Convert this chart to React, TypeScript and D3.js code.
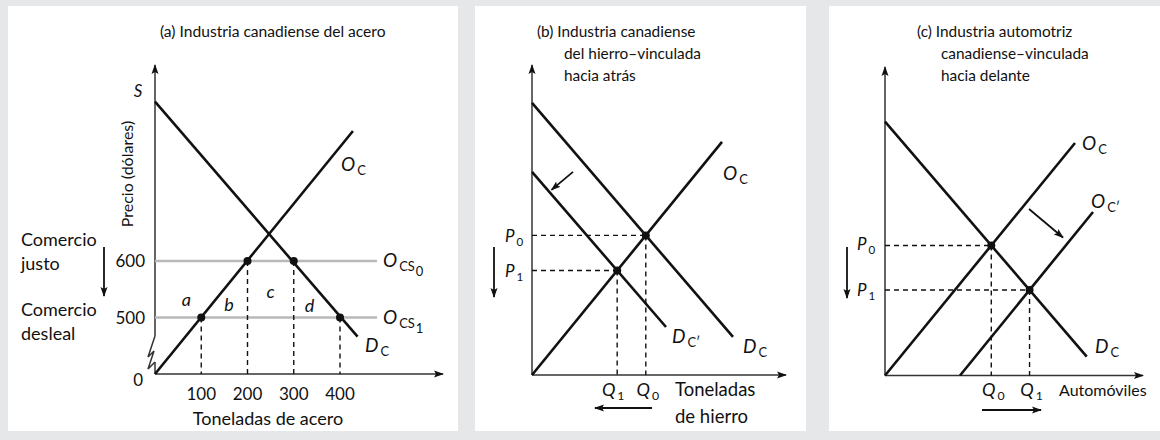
import React from 'react';
import * as d3 from 'd3';

type Pt = [number, number];

const W = 1160;
const H = 440;
const BG = '#e6e7e9';
const FONT = 'Lato, "Open Sans", sans-serif';

// (a) Industria canadiense del acero
const qTicksA = [100, 200, 300, 400];
const pTicksA = [600, 500];
const supplyA: Pt[] = [[0, 400], [428, 830]];
const demandA: Pt[] = [[0, 882], [438, 466]];
const worldSupplyA = [{ p: 600, sub: '0' }, { p: 500, sub: '1' }];
const pointsA: Pt[] = [[100, 500], [200, 600], [300, 600], [400, 500]];
const areaLabelsA = [
  { t: 'a', q: 68, p: 529 },
  { t: 'b', q: 160, p: 521 },
  { t: 'c', q: 250, p: 543 },
  { t: 'd', q: 334, p: 518 },
];
const sideLabelsA = ['Comercio', 'justo', 'Comercio', 'desleal'];

// (b) hierro, vinculada hacia atrás
const supplyB: Pt[] = [[0, 0], [7.6, 7.77]];
const demandB0: Pt[] = [[0, 9.07], [8.04, 1.27]];
const demandB1: Pt[] = [[0, 6.77], [5.36, 1.6]];
const shiftB: Pt[] = [[1.64, 6.77], [0.78, 6.17]];

// (c) automotriz, vinculada hacia delante
const supplyC0: Pt[] = [[0, 0], [7.6, 7.75]];
const supplyC1: Pt[] = [[3, 0], [8.32, 5.45]];
const demandC: Pt[] = [[0, 8.46], [8.07, 0.63]];
const shiftC: Pt[] = [[5.76, 5.55], [7.12, 4.6]];

function intersect(a: Pt[], b: Pt[]): Pt {
  const m1 = (a[1][1] - a[0][1]) / (a[1][0] - a[0][0]);
  const m2 = (b[1][1] - b[0][1]) / (b[1][0] - b[0][0]);
  const c1 = a[0][1] - m1 * a[0][0];
  const c2 = b[0][1] - m2 * b[0][0];
  const x = (c2 - c1) / (m1 - m2);
  return [x, m1 * x + c1];
}

function Sym({ x, y, main, sub, sub2, size = 18, anchor = 'start' }: any) {
  return (
    <text x={x} y={y} fontSize={size} fontStyle="italic" textAnchor={anchor} fill="#111">
      {main}
      <tspan fontStyle="normal" fontSize={size * 0.68} dy={4} dx={2}>{sub}</tspan>
      {sub2 != null && <tspan fontStyle="normal" fontSize={size * 0.68} dy={5} dx={1}>{sub2}</tspan>}
    </text>
  );
}

function App() {
  // panel scales
  const xa = d3.scaleLinear().domain([0, 400]).range([155, 340]);
  const ya = d3.scaleLinear().domain([400, 600]).range([374, 261]);
  const xb = d3.scaleLinear().domain([0, 10]).range([532, 782]);
  const yb = d3.scaleLinear().domain([0, 10]).range([375, 75]);
  const xc = d3.scaleLinear().domain([0, 10]).range([885, 1135]);
  const yc = d3.scaleLinear().domain([0, 10]).range([375.5, 75.5]);

  const lineA = d3.line<Pt>().x((d) => xa(d[0])).y((d) => ya(d[1]));
  const lineB = d3.line<Pt>().x((d) => xb(d[0])).y((d) => yb(d[1]));
  const lineC = d3.line<Pt>().x((d) => xc(d[0])).y((d) => yc(d[1]));

  const eqB0 = intersect(supplyB, demandB0);
  const eqB1 = intersect(supplyB, demandB1);
  const eqC0 = intersect(supplyC0, demandC);
  const eqC1 = intersect(supplyC1, demandC);

  const curve = { fill: 'none', stroke: '#111', strokeWidth: 2.6 };
  const axis = { stroke: '#333', strokeWidth: 1.5 };
  const dash = { stroke: '#111', strokeWidth: 1.4, strokeDasharray: '5,4' };

  const eqGuides = (eq: Pt, x: any, y: any, key: string) => (
    <g key={key}>
      <line x1={x(0)} y1={y(eq[1])} x2={x(eq[0])} y2={y(eq[1])} {...dash} />
      <line x1={x(eq[0])} y1={y(eq[1])} x2={x(eq[0])} y2={y(0)} {...dash} />
      <circle cx={x(eq[0])} cy={y(eq[1])} r={4} fill="#111" />
    </g>
  );

  return (
    <div style={{ position: 'absolute', left: 0, top: 0 }}>
      <svg width={W} height={H} fontFamily={FONT} style={{ display: 'block' }}>
        <defs>
          <marker id="ah" markerUnits="userSpaceOnUse" markerWidth={10} markerHeight={8}
            refX={9} refY={4} orient="auto">
            <path d="M0,0.5 L10,4 L0,7.5 L2,4 z" fill="#111" />
          </marker>
        </defs>
        <rect width={W} height={H} fill={BG} />
        <rect x={8} y={6} width={450} height={425} fill="#fff" />
        <rect x={475} y={6} width={331} height={425} fill="#fff" />
        <rect x={829} y={6} width={331} height={425} fill="#fff" />

        {/* ---------- (a) ---------- */}
        <g>
          <text x={160} y={37} fontSize={15.6} fill="#111">(a) Industria canadiense del acero</text>
          {/* axes */}
          <line x1={xa(0)} y1={336} x2={xa(0)} y2={65} {...axis} markerEnd="url(#ah)" />
          <polyline points={`${xa(0)},336 148,357 154,351 148,369 ${xa(0)},362`} fill="none" {...axis} />
          <line x1={xa(0)} y1={362} x2={xa(0)} y2={ya(400)} {...axis} />
          <line x1={xa(0)} y1={ya(400)} x2={443} y2={ya(400)} {...axis} markerEnd="url(#ah)" />
          <text x={138} y={97} fontSize={17} fontStyle="italic" textAnchor="middle" fill="#111">S</text>
          <text transform="translate(133,174) rotate(-90)" fontSize={16} textAnchor="middle" fill="#111">Precio (dólares)</text>
          <text x={xa(0) - 12} y={386} fontSize={17} textAnchor="end" fill="#111">0</text>
          {pTicksA.map((p) => (
            <text key={p} x={145} y={ya(p) + 6} fontSize={17} textAnchor="end" fill="#111">{p}</text>
          ))}
          {qTicksA.map((q) => (
            <text key={q} x={xa(q)} y={400} fontSize={17} textAnchor="middle" fill="#111">{q}</text>
          ))}
          <text x={268} y={425} fontSize={18} textAnchor="middle" fill="#111">Toneladas de acero</text>
          {/* side labels */}
          {sideLabelsA.map((t, i) => (
            <text key={i} x={21} y={[246, 270, 316, 340][i]} fontSize={18} fill="#111">{t}</text>
          ))}
          <line x1={104} y1={247} x2={104} y2={296} stroke="#111" strokeWidth={1.8} markerEnd="url(#ah)" />
          {/* world supply */}
          {worldSupplyA.map((w) => (
            <g key={w.p}>
              <line x1={xa(0)} y1={ya(w.p)} x2={xa(480)} y2={ya(w.p)} stroke="#b9b9b9" strokeWidth={2.6} />
              <Sym x={383} y={ya(w.p) + 6} main="O" sub="CS" sub2={w.sub} size={19} />
            </g>
          ))}
          {pointsA.map((d, i) => (
            <line key={i} x1={xa(d[0])} y1={ya(d[1])} x2={xa(d[0])} y2={ya(400)} {...dash} />
          ))}
          <path d={lineA(supplyA) ?? ''} {...curve} />
          <path d={lineA(demandA) ?? ''} {...curve} />
          {pointsA.map((d, i) => (
            <circle key={i} cx={xa(d[0])} cy={ya(d[1])} r={4} fill="#111" />
          ))}
          {areaLabelsA.map((l) => (
            <text key={l.t} x={xa(l.q)} y={ya(l.p) + 5} fontSize={18} fontStyle="italic" textAnchor="middle" fill="#111">{l.t}</text>
          ))}
          <Sym x={341} y={171} main="O" sub="C" size={19} />
          <Sym x={365} y={352} main="D" sub="C" size={19} />
        </g>

        {/* ---------- (b) ---------- */}
        <g>
          <text fontSize={15.4} fill="#111">
            <tspan x={537} y={37}>(b) Industria canadiense</tspan>
            <tspan x={564} y={59}>del hierro–vinculada</tspan>
            <tspan x={564} y={81}>hacia atrás</tspan>
          </text>
          <line x1={xb(0)} y1={yb(0)} x2={xb(0)} y2={65} {...axis} markerEnd="url(#ah)" />
          <line x1={xb(0)} y1={yb(0)} x2={786} y2={yb(0)} {...axis} markerEnd="url(#ah)" />
          {eqGuides(eqB0, xb, yb, 'b0')}
          {eqGuides(eqB1, xb, yb, 'b1')}
          <path d={lineB(supplyB) ?? ''} {...curve} />
          <path d={lineB(demandB0) ?? ''} {...curve} />
          <path d={lineB(demandB1) ?? ''} {...curve} />
          <line x1={xb(shiftB[0][0])} y1={yb(shiftB[0][1])} x2={xb(shiftB[1][0])} y2={yb(shiftB[1][1])}
            stroke="#111" strokeWidth={1.8} markerEnd="url(#ah)" />
          <Sym x={505} y={yb(eqB0[1]) + 7} main="P" sub="0" size={17} />
          <Sym x={505} y={yb(eqB1[1]) + 7} main="P" sub="1" size={17} />
          <line x1={494} y1={247} x2={494} y2={297} stroke="#111" strokeWidth={1.8} markerEnd="url(#ah)" />
          <Sym x={xb(eqB1[0]) - 4} y={396} main="Q" sub="1" size={18} anchor="middle" />
          <Sym x={xb(eqB0[0]) + 2} y={396} main="Q" sub="0" size={18} anchor="middle" />
          <text fontSize={18.5} fill="#111">
            <tspan x={675} y={396}>Toneladas</tspan>
            <tspan x={675} y={423}>de hierro</tspan>
          </text>
          <line x1={652} y1={408} x2={595} y2={408} stroke="#111" strokeWidth={1.8} markerEnd="url(#ah)" />
          <Sym x={723} y={180} main="O" sub="C" size={19} />
          <Sym x={672} y={343} main="D" sub="C′" size={19} />
          <Sym x={743} y={353} main="D" sub="C" size={19} />
        </g>

        {/* ---------- (c) ---------- */}
        <g>
          <text fontSize={15.4} fill="#111">
            <tspan x={917} y={37}>(c) Industria automotriz</tspan>
            <tspan x={941} y={59}>canadiense–vinculada</tspan>
            <tspan x={941} y={81}>hacia delante</tspan>
          </text>
          <line x1={xc(0)} y1={yc(0)} x2={xc(0)} y2={67} {...axis} markerEnd="url(#ah)" />
          <line x1={xc(0)} y1={yc(0)} x2={1143} y2={yc(0)} {...axis} markerEnd="url(#ah)" />
          {eqGuides(eqC0, xc, yc, 'c0')}
          {eqGuides(eqC1, xc, yc, 'c1')}
          <path d={lineC(supplyC0) ?? ''} {...curve} />
          <path d={lineC(supplyC1) ?? ''} {...curve} />
          <path d={lineC(demandC) ?? ''} {...curve} />
          <line x1={xc(shiftC[0][0])} y1={yc(shiftC[0][1])} x2={xc(shiftC[1][0])} y2={yc(shiftC[1][1])}
            stroke="#111" strokeWidth={1.8} markerEnd="url(#ah)" />
          <Sym x={857} y={yc(eqC0[1]) + 5} main="P" sub="0" size={17} />
          <Sym x={857} y={yc(eqC1[1]) + 6} main="P" sub="1" size={17} />
          <line x1={847} y1={247} x2={847} y2={298} stroke="#111" strokeWidth={1.8} markerEnd="url(#ah)" />
          <Sym x={xc(eqC0[0]) + 2} y={396} main="Q" sub="0" size={18} anchor="middle" />
          <Sym x={xc(eqC1[0]) + 2} y={396} main="Q" sub="1" size={18} anchor="middle" />
          <text x={1059} y={396} fontSize={16} fill="#111">Automóviles</text>
          <line x1={982} y1={410} x2={1041} y2={410} stroke="#111" strokeWidth={1.8} markerEnd="url(#ah)" />
          <Sym x={1082} y={150} main="O" sub="C" size={19} />
          <Sym x={1091} y={208} main="O" sub="C′" size={19} />
          <Sym x={1095} y={353} main="D" sub="C" size={19} />
        </g>
      </svg>
    </div>
  );
}

export default App;
